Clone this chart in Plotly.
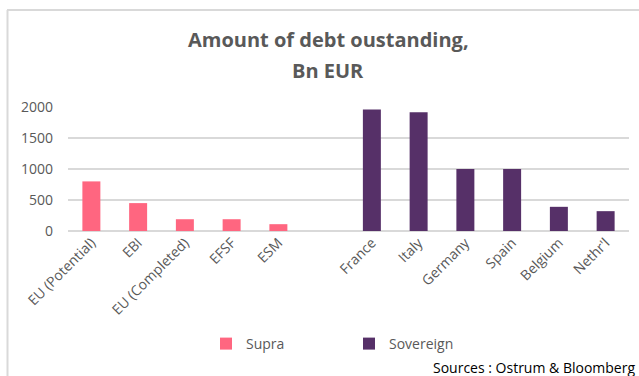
import plotly.graph_objects as go

# ---- data ----
supra_cats = ["EU (Potential)", "EBI", "EU (Completed)", "EFSF", "ESM"]
supra_vals = [800, 450, 190, 190, 110]
sov_cats = ["France", "Italy", "Germany", "Spain", "Belgium", "Nethr'l"]
sov_vals = [1960, 1915, 1000, 1000, 390, 320]
gap_cat = [" "]
categories = supra_cats + gap_cat + sov_cats
y_ticks = [0, 500, 1000, 1500, 2000]

# ---- layout constants ----
W, H = 639, 376
ML, MR, MT, MB = 68, 10, 107, 145
PW = W - ML - MR
PH = H - MT - MB
FONT = "Open Sans"
GRAY = "#595959"
GRID = "#d9d9d9"


def px(x):
    return (x - ML) / PW


def py(y):
    return (H - MB - y) / PH


fig = go.Figure()
fig.add_trace(go.Bar(x=supra_cats, y=supra_vals, name="Supra",
                     marker=dict(color="#FF6680", line=dict(width=0))))
fig.add_trace(go.Bar(x=sov_cats, y=sov_vals, name="Sovereign",
                     marker=dict(color="#563068", line=dict(width=0))))

fig.update_layout(
    width=W, height=H,
    margin=dict(l=ML, r=MR, t=MT, b=MB),
    paper_bgcolor="white", plot_bgcolor="white",
    barmode="overlay", bargap=0.615,
    font=dict(family=FONT, color=GRAY, size=14),
    showlegend=True,
    legend=dict(orientation="h", xref="container", yref="container",
                x=206 / W, xanchor="left", y=1 - 344 / H, yanchor="middle",
                entrywidth=98, entrywidthmode="pixels",
                font=dict(size=14, color=GRAY), bgcolor="rgba(0,0,0,0)"),
    xaxis=dict(type="category", categoryorder="array", categoryarray=categories,
               range=[-0.5, len(categories) - 0.5], tickangle=-45,
               showgrid=False, showline=False, ticks="",
               tickfont=dict(size=14, color=GRAY)),
    yaxis=dict(range=[0, 2000], tickvals=y_ticks, showgrid=True, gridcolor=GRID,
               gridwidth=1.5, zeroline=True, zerolinecolor=GRID, zerolinewidth=1.5,
               showline=False, ticks="", ticklabelstandoff=14,
               tickfont=dict(size=14, color=GRAY)),
)

# Title (two lines)
fig.add_annotation(text="<b>Amount of debt oustanding,</b>", x=px(328), y=py(39),
                   xref="paper", yref="paper", showarrow=False,
                   xanchor="center", yanchor="middle",
                   font=dict(size=20, color=GRAY, family=FONT))
fig.add_annotation(text="<b>Bn EUR</b>", x=px(328), y=py(70),
                   xref="paper", yref="paper", showarrow=False,
                   xanchor="center", yanchor="middle",
                   font=dict(size=20, color=GRAY, family=FONT))

# Source
fig.add_annotation(text="Sources : Ostrum & Bloomberg", x=px(637), y=py(368),
                   xref="paper", yref="paper", showarrow=False,
                   xanchor="right", yanchor="middle",
                   font=dict(size=14, color="#000000", family=FONT))

# Frame (top and left)
fig.add_shape(type="line", xref="paper", yref="paper",
              x0=px(7), x1=px(640), y0=py(10), y1=py(10),
              line=dict(color=GRID, width=2))
fig.add_shape(type="line", xref="paper", yref="paper",
              x0=px(7.5), x1=px(7.5), y0=py(10), y1=py(377),
              line=dict(color=GRID, width=2))

fig.write_html("out.html")
